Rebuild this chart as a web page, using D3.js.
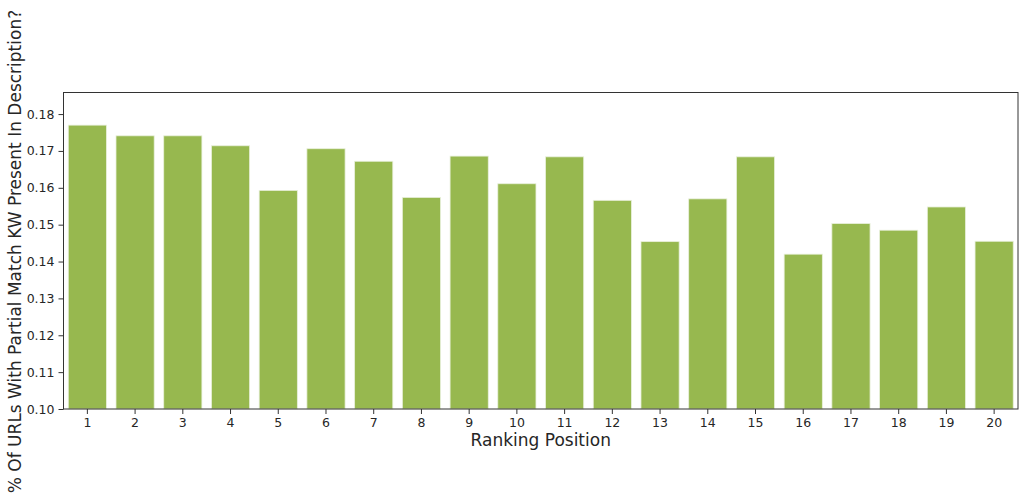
<!DOCTYPE html>
<html><head><meta charset="utf-8">
<script src="https://cdn.jsdelivr.net/npm/d3@7"></script>
<style>body{margin:0;background:#fff}svg{display:block}text{font-family:"DejaVu Sans",sans-serif;fill:#262626}</style>
</head><body>
<svg id="c" width="1024" height="501"></svg>
<script>
const categories = ["1","2","3","4","5","6","7","8","9","10","11","12","13","14","15","16","17","18","19","20"];
const values = [0.1770,0.1741,0.1741,0.1714,0.1593,0.1706,0.1672,0.1574,0.1686,0.1611,0.1684,0.1566,0.1454,0.1570,0.1684,0.1420,0.1503,0.1485,0.1548,0.1455];
const yTicks = [0.10,0.11,0.12,0.13,0.14,0.15,0.16,0.17,0.18];
const xTitle = "Ranking Position";
const yTitle = "% Of URLs With Partial Match KW Present In Description?";

const svg = d3.select("#c");
const L = 63.5, R = 1018, T = 92.5, B = 409;
const x = d3.scaleBand().domain(categories).range([L, R]).paddingInner(0.2).paddingOuter(0.1);
const y = d3.scaleLinear().domain([0.10, d3.max(values) * 1.05]).range([B, T]);

svg.append("g").selectAll("rect").data(values).join("rect")
  .attr("x", (d,i) => x(categories[i]))
  .attr("width", x.bandwidth())
  .attr("y", d => y(d))
  .attr("height", d => B - y(d))
  .attr("fill", "#97b84f")
  .attr("stroke", "#e9f0dc").attr("stroke-width", 0.8);

const xa = svg.append("g").attr("transform", `translate(0,${B})`)
  .call(d3.axisBottom(x).tickSize(5).tickPadding(4));
const ya = svg.append("g").attr("transform", `translate(${L},0)`)
  .call(d3.axisLeft(y).tickValues(yTicks).tickFormat(d3.format(".2f")).tickSize(5).tickPadding(4));
[xa, ya].forEach(a => {
  a.select(".domain").remove();
  a.selectAll("line").attr("stroke", "#333").attr("stroke-width", 1);
  a.selectAll("text").style("font-size", "12.5px").attr("fill", "#262626");
});

svg.append("rect").attr("x", L).attr("y", T).attr("width", R - L).attr("height", B - T)
  .attr("fill", "none").attr("stroke", "#333").attr("stroke-width", 1);

svg.append("text").attr("x", (L + R) / 2).attr("y", 446).attr("text-anchor", "middle")
  .style("font-size", "17px").text(xTitle);
svg.append("text").attr("transform", `translate(21,251.5) rotate(-90)`)
  .attr("text-anchor", "middle").style("font-size", "17px").text(yTitle);
</script>
</body></html>
